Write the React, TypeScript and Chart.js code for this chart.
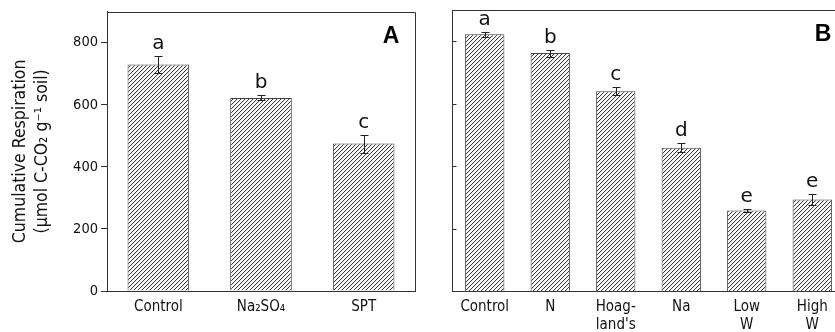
import React, { useEffect, useRef } from 'react';
import { Chart, registerables } from 'chart.js';
Chart.register(...registerables);

const yTicks = [0, 200, 400, 600, 800];
const yMax = 900;

const catsA = ['Control', 'Na₂SO₄', 'SPT'];
const valsA = [730, 622, 475];
const errsA = [28, 8, 29];
const lettersA = ['a', 'b', 'c'];

const catsB = ['Control', 'N', ['Hoag-', "land's"], 'Na', ['Low', 'W'], ['High', 'W']];
const valsB = [822, 762, 640, 459, 258, 293];
const errsB = [8, 11, 13, 14, 5, 18];
const lettersB = ['a', 'b', 'c', 'd', 'e', 'e'];

const yTitle1 = 'Cumulative Respiration';
const yTitle2 = '(µmol C-CO₂ g⁻¹ soil)';

const FONT = '"DejaVu Sans Condensed", "DejaVu Sans", sans-serif';
const FONT_WIDE = '"DejaVu Sans", sans-serif';
const LINE = '#333';
const TEXT = '#111';

function makePattern(): CanvasPattern | string {
  const n = 4;
  const c = document.createElement('canvas');
  c.width = n;
  c.height = n;
  const g = c.getContext('2d');
  if (!g) return '#999';
  g.fillStyle = '#fff';
  g.fillRect(0, 0, n, n);
  g.fillStyle = '#3a3a3a';
  for (let i = 0; i < n; i++) {
    g.fillRect(i, n - 1 - i, 1, 1);
  }
  g.fillStyle = 'rgba(60,60,60,0.12)';
  for (let i = 0; i < n; i++) {
    g.fillRect((i + 1) % n, n - 1 - i, 1, 1);
  }
  const p = g.createPattern(c, 'repeat');
  return p || '#999';
}

const errPlugin = {
  id: 'errLetters',
  afterDatasetsDraw(chart: any, _args: any, opts: any) {
    const { ctx } = chart;
    const meta = chart.getDatasetMeta(0);
    const ys = chart.scales.y;
    ctx.save();
    ctx.strokeStyle = '#222';
    ctx.lineWidth = 1;
    meta.data.forEach((el: any, i: number) => {
      const v = opts.values[i];
      const e = opts.errors[i];
      const x = Math.round(el.x) + 0.5;
      const yt = Math.round(ys.getPixelForValue(v + e)) + 0.5;
      const yb = Math.round(ys.getPixelForValue(v - e)) + 0.5;
      ctx.beginPath();
      ctx.moveTo(x, yt);
      ctx.lineTo(x, yb);
      ctx.moveTo(x - 4, yt);
      ctx.lineTo(x + 4, yt);
      ctx.moveTo(x - 4, yb);
      ctx.lineTo(x + 4, yb);
      ctx.stroke();
      ctx.font = '20px ' + FONT_WIDE;
      ctx.textAlign = 'center';
      ctx.textBaseline = 'alphabetic';
      ctx.fillStyle = TEXT;
      ctx.fillText(opts.letters[i], el.x, yt - 8);
    });
    ctx.restore();
  },
};

const framePlugin = {
  id: 'frame',
  afterDraw(chart: any, _args: any, opts: any) {
    const { ctx, chartArea } = chart;
    ctx.save();
    ctx.strokeStyle = LINE;
    ctx.lineWidth = 1;
    const l = Math.round(chartArea.left) + 0.5;
    const t = Math.round(chartArea.top) + 0.5;
    const r = Math.round(chartArea.right) + 0.5;
    const b = Math.round(chartArea.bottom) + 0.5;
    ctx.beginPath();
    ctx.moveTo(l, b);
    ctx.lineTo(l, t);
    ctx.lineTo(r, t);
    ctx.lineTo(r, b);
    ctx.stroke();
    if (opts.inwardTicks) {
      const ys = chart.scales.y;
      ctx.beginPath();
      yTicks.forEach((v) => {
        const y = Math.round(ys.getPixelForValue(v)) + 0.5;
        ctx.moveTo(l, y);
        ctx.lineTo(l + 4, y);
      });
      ctx.stroke();
    }
    ctx.fillStyle = '#000';
    ctx.font = 'bold 23px "Liberation Sans", Arial, sans-serif';
    ctx.textAlign = 'center';
    ctx.textBaseline = 'middle';
    ctx.fillText(opts.panel, chartArea.right - opts.panelDx, chartArea.top + 25);
    if (opts.yTitle) {
      const cy = (chartArea.top + chartArea.bottom) / 2;
      ctx.fillStyle = TEXT;
      ctx.font = '17.5px ' + FONT;
      ctx.textBaseline = 'alphabetic';
      ctx.save();
      ctx.translate(25, cy);
      ctx.rotate(-Math.PI / 2);
      ctx.fillText(yTitle1, 0, 0);
      ctx.restore();
      ctx.save();
      ctx.translate(47, cy);
      ctx.rotate(-Math.PI / 2);
      ctx.fillText(yTitle2, 0, 0);
      ctx.restore();
    }
    ctx.restore();
  },
};

function makeChart(
  canvas: HTMLCanvasElement,
  labels: any[],
  values: number[],
  errors: number[],
  letters: string[],
  panel: string,
  yWidth: number,
  rightPad: number,
  showY: boolean,
  panelDx: number
) {
  const pattern = makePattern();
  return new Chart(canvas, {
    type: 'bar',
    data: {
      labels,
      datasets: [
        {
          data: values,
          backgroundColor: pattern as any,
          borderColor: '#444',
          borderWidth: 1,
          barPercentage: 0.6,
          categoryPercentage: 1,
        },
      ],
    },
    options: {
      responsive: false,
      animation: false,
      devicePixelRatio: 1,
      layout: { padding: { top: 10, right: rightPad, left: 0, bottom: 0 } },
      plugins: {
        legend: { display: false },
        tooltip: { enabled: false },
        errLetters: { values, errors, letters },
        frame: { panel, inwardTicks: !showY, yTitle: showY, panelDx },
      } as any,
      scales: {
        x: {
          grid: { display: false, drawTicks: false },
          border: { display: true, color: LINE, width: 1 },
          ticks: {
            color: TEXT,
            font: { family: FONT, size: 15, lineHeight: 1.2 },
            padding: 7,
            autoSkip: false,
            maxRotation: 0,
          },
          afterFit: (s: any) => {
            s.height = 41;
          },
        },
        y: {
          min: 0,
          max: yMax,
          grid: {
            display: showY,
            drawOnChartArea: false,
            drawTicks: true,
            tickLength: 6,
            color: LINE,
          },
          border: { display: true, color: LINE, width: 1 },
          afterBuildTicks: (s: any) => {
            s.ticks = yTicks.map((v) => ({ value: v }));
          },
          ticks: {
            display: showY,
            color: TEXT,
            font: { family: FONT, size: 14.5 },
            padding: 3,
          },
          afterFit: (s: any) => {
            s.width = yWidth;
          },
        },
      },
    },
    plugins: [errPlugin, framePlugin],
  } as any);
}

export default function App() {
  const refA = useRef<HTMLCanvasElement>(null);
  const refB = useRef<HTMLCanvasElement>(null);
  useEffect(() => {
    if (!refA.current || !refB.current) return;
    const a = makeChart(refA.current, catsA, valsA, errsA, lettersA, 'A', 107, 5, true, 24);
    const b = makeChart(refB.current, catsB, valsB, errsB, lettersB, 'B', 32, 5, false, 22);
    return () => {
      a.destroy();
      b.destroy();
    };
  }, []);
  return (
    <div
      style={{
        position: 'absolute',
        left: 0,
        top: 0,
        width: 835,
        height: 332,
        overflow: 'hidden',
        background: '#fff',
      }}
    >
      <canvas
        ref={refA}
        width={420}
        height={332}
        style={{ position: 'absolute', left: 0, top: 0, display: 'block' }}
      />
      <canvas
        ref={refB}
        width={430}
        height={332}
        style={{ position: 'absolute', left: 420, top: 0, display: 'block' }}
      />
    </div>
  );
}
